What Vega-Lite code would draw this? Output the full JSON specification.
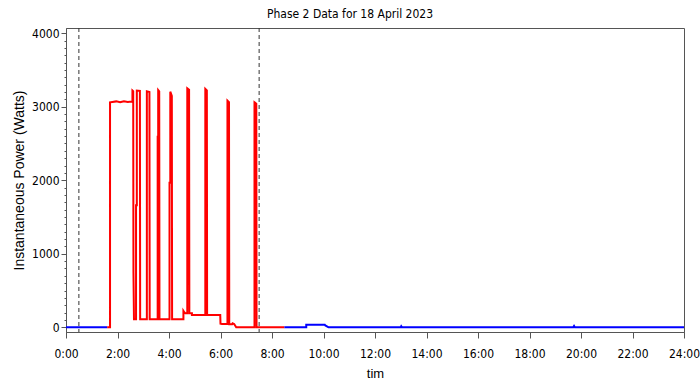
{
  "$schema": "https://vega.github.io/schema/vega-lite/v6.json",
  "autosize": "none",
  "width": 618,
  "height": 304,
  "padding": {"left": 66, "top": 28, "right": 16, "bottom": 50},
  "background": "white",
  "title": {
    "text": "Phase 2 Data for 18 April 2023",
    "font": "Liberation Sans Narrow, DejaVu Sans Condensed, Liberation Sans",
    "fontSize": 12,
    "fontWeight": "normal",
    "color": "black",
    "anchor": "middle",
    "frame": "group",
    "baseline": "bottom",
    "offset": 9,
    "dx": -25,
    "dy": 15
  },
  "config": {
    "view": {"stroke": "#555555", "strokeWidth": 1},
    "axis": {
      "labelFont": "Liberation Sans Narrow, DejaVu Sans Condensed, Liberation Sans",
      "titleFont": "Liberation Sans",
      "labelColor": "black",
      "titleColor": "black",
      "domainColor": "#555555",
      "tickColor": "#555555",
      "grid": false,
      "titleFontWeight": "normal"
    }
  },
  "datasets": {
    "power": [
      {"i": 1, "s": "b1", "c": "outside", "t": 0, "p": 0},
      {"i": 2, "s": "b1", "c": "outside", "t": 1.6, "p": 0},
      {"i": 3, "s": "r", "c": "inside", "t": 1.6, "p": 0},
      {"i": 4, "s": "r", "c": "inside", "t": 1.71, "p": 0},
      {"i": 5, "s": "r", "c": "inside", "t": 1.71, "p": 3060},
      {"i": 6, "s": "r", "c": "inside", "t": 1.8, "p": 3065},
      {"i": 7, "s": "r", "c": "inside", "t": 1.95, "p": 3072},
      {"i": 8, "s": "r", "c": "inside", "t": 2.1, "p": 3060},
      {"i": 9, "s": "r", "c": "inside", "t": 2.25, "p": 3075},
      {"i": 10, "s": "r", "c": "inside", "t": 2.4, "p": 3065},
      {"i": 11, "s": "r", "c": "inside", "t": 2.55, "p": 3070},
      {"i": 12, "s": "r", "c": "inside", "t": 2.58, "p": 3065},
      {"i": 13, "s": "r", "c": "inside", "t": 2.58, "p": 3220},
      {"i": 14, "s": "r", "c": "inside", "t": 2.61, "p": 3210},
      {"i": 15, "s": "r", "c": "inside", "t": 2.62, "p": 740},
      {"i": 16, "s": "r", "c": "inside", "t": 2.64, "p": 110},
      {"i": 17, "s": "r", "c": "inside", "t": 2.72, "p": 110},
      {"i": 18, "s": "r", "c": "inside", "t": 2.72, "p": 1660},
      {"i": 19, "s": "r", "c": "inside", "t": 2.75, "p": 1660},
      {"i": 20, "s": "r", "c": "inside", "t": 2.75, "p": 3220},
      {"i": 21, "s": "r", "c": "inside", "t": 2.87, "p": 3215},
      {"i": 22, "s": "r", "c": "inside", "t": 2.88, "p": 110},
      {"i": 23, "s": "r", "c": "inside", "t": 3.14, "p": 110},
      {"i": 24, "s": "r", "c": "inside", "t": 3.14, "p": 3210},
      {"i": 25, "s": "r", "c": "inside", "t": 3.24, "p": 3200},
      {"i": 26, "s": "r", "c": "inside", "t": 3.25, "p": 110},
      {"i": 27, "s": "r", "c": "inside", "t": 3.56, "p": 110},
      {"i": 28, "s": "r", "c": "inside", "t": 3.56, "p": 2590},
      {"i": 29, "s": "r", "c": "inside", "t": 3.58, "p": 2590},
      {"i": 30, "s": "r", "c": "inside", "t": 3.58, "p": 3227},
      {"i": 31, "s": "r", "c": "inside", "t": 3.62, "p": 3210},
      {"i": 32, "s": "r", "c": "inside", "t": 3.63, "p": 109},
      {"i": 33, "s": "r", "c": "inside", "t": 4.02, "p": 109},
      {"i": 34, "s": "r", "c": "inside", "t": 4.02, "p": 1967},
      {"i": 35, "s": "r", "c": "inside", "t": 4.05, "p": 1967},
      {"i": 36, "s": "r", "c": "inside", "t": 4.05, "p": 3204},
      {"i": 37, "s": "r", "c": "inside", "t": 4.11, "p": 3146},
      {"i": 38, "s": "r", "c": "inside", "t": 4.12, "p": 109},
      {"i": 39, "s": "r", "c": "inside", "t": 4.56, "p": 109},
      {"i": 40, "s": "r", "c": "inside", "t": 4.56, "p": 222},
      {"i": 41, "s": "r", "c": "inside", "t": 4.6, "p": 200},
      {"i": 42, "s": "r", "c": "inside", "t": 4.63, "p": 190},
      {"i": 43, "s": "r", "c": "inside", "t": 4.71, "p": 190},
      {"i": 44, "s": "r", "c": "inside", "t": 4.71, "p": 3250},
      {"i": 45, "s": "r", "c": "inside", "t": 4.78, "p": 3230},
      {"i": 46, "s": "r", "c": "inside", "t": 4.79, "p": 190},
      {"i": 47, "s": "r", "c": "inside", "t": 4.89, "p": 190},
      {"i": 48, "s": "r", "c": "inside", "t": 4.89, "p": 167},
      {"i": 49, "s": "r", "c": "inside", "t": 5.41, "p": 167},
      {"i": 50, "s": "r", "c": "inside", "t": 5.41, "p": 3241},
      {"i": 51, "s": "r", "c": "inside", "t": 5.47, "p": 3220},
      {"i": 52, "s": "r", "c": "inside", "t": 5.48, "p": 167},
      {"i": 53, "s": "r", "c": "inside", "t": 5.99, "p": 167},
      {"i": 54, "s": "r", "c": "inside", "t": 6.0, "p": 50},
      {"i": 55, "s": "r", "c": "inside", "t": 6.06, "p": 45},
      {"i": 56, "s": "r", "c": "inside", "t": 6.27, "p": 45},
      {"i": 57, "s": "r", "c": "inside", "t": 6.27, "p": 3082},
      {"i": 58, "s": "r", "c": "inside", "t": 6.33, "p": 3060},
      {"i": 59, "s": "r", "c": "inside", "t": 6.34, "p": 40},
      {"i": 60, "s": "r", "c": "inside", "t": 6.45, "p": 40},
      {"i": 61, "s": "r", "c": "inside", "t": 6.47, "p": 55},
      {"i": 62, "s": "r", "c": "inside", "t": 6.53, "p": 45},
      {"i": 63, "s": "r", "c": "inside", "t": 6.61, "p": 0},
      {"i": 64, "s": "r", "c": "inside", "t": 7.32, "p": 0},
      {"i": 65, "s": "r", "c": "inside", "t": 7.32, "p": 3060},
      {"i": 66, "s": "r", "c": "inside", "t": 7.39, "p": 3040},
      {"i": 67, "s": "r", "c": "inside", "t": 7.4, "p": 0},
      {"i": 68, "s": "r", "c": "inside", "t": 8.48, "p": 0},
      {"i": 69, "s": "b2", "c": "outside", "t": 8.48, "p": 0},
      {"i": 70, "s": "b2", "c": "outside", "t": 9.33, "p": 0},
      {"i": 71, "s": "b2", "c": "outside", "t": 9.33, "p": 36},
      {"i": 72, "s": "b2", "c": "outside", "t": 10.05, "p": 36},
      {"i": 73, "s": "b2", "c": "outside", "t": 10.07, "p": 25},
      {"i": 74, "s": "b2", "c": "outside", "t": 10.15, "p": 10},
      {"i": 75, "s": "b2", "c": "outside", "t": 10.2, "p": 0},
      {"i": 76, "s": "b2", "c": "outside", "t": 13.0, "p": 0},
      {"i": 77, "s": "b2", "c": "outside", "t": 13.02, "p": 15},
      {"i": 78, "s": "b2", "c": "outside", "t": 13.05, "p": 0},
      {"i": 79, "s": "b2", "c": "outside", "t": 19.7, "p": 0},
      {"i": 80, "s": "b2", "c": "outside", "t": 19.73, "p": 18},
      {"i": 81, "s": "b2", "c": "outside", "t": 19.76, "p": 0},
      {"i": 82, "s": "b2", "c": "outside", "t": 24, "p": 0}
    ],
    "refs": [
      {"t": 0.5},
      {"t": 7.5}
    ]
  },
  "layer": [
    {
      "data": {"name": "refs"},
      "mark": {"type": "rule", "color": "#333333", "strokeWidth": 1, "strokeDash": [4, 3]},
      "encoding": {
        "x": {"field": "t", "type": "quantitative", "scale": {"domain": [0, 24]}}
      }
    },
    {
      "data": {"name": "power"},
      "mark": {"type": "line", "strokeWidth": 2, "clip": true},
      "encoding": {
        "x": {
          "field": "t",
          "type": "quantitative",
          "scale": {"domain": [0, 24], "nice": false, "zero": false},
          "axis": {
            "title": "tim",
            "titleFontSize": 13,
            "titleY": 41,
            "titleBaseline": "middle",
            "values": [0, 2, 4, 6, 8, 10, 12, 14, 16, 18, 20, 22, 24],
            "labelExpr": "format(datum.value, 'd') + ':00'",
            "labelFontSize": 12,
            "tickSize": 6,
            "labelPadding": 10,
            "labelFlush": false,
            "labelOverlap": false
          }
        },
        "y": {
          "field": "p",
          "type": "quantitative",
          "scale": {"domain": [-64, 4070], "nice": false, "zero": false},
          "axis": {
            "title": "Instantaneous  Power  (Watts)",
            "titleFontSize": 14,
            "titleX": -47,
            "titleY": 152,
            "titleAngle": -90,
            "titleBaseline": "middle",
            "titleAlign": "center",
            "values": [0, 100, 200, 300, 400, 500, 600, 700, 800, 900, 1000, 1100, 1200, 1300, 1400, 1500, 1600, 1700, 1800, 1900, 2000, 2100, 2200, 2300, 2400, 2500, 2600, 2700, 2800, 2900, 3000, 3100, 3200, 3300, 3400, 3500, 3600, 3700, 3800, 3900, 4000],
            "labelExpr": "datum.value % 1000 === 0 ? format(datum.value, 'd') : ''",
            "labelFontSize": 12,
            "tickSize": {"condition": {"test": "datum.value % 1000 === 0", "value": 5}, "value": 2},
            "labelPadding": 2,
            "labelOverlap": false,
            "labelFlush": false
          }
        },
        "color": {
          "field": "c",
          "type": "nominal",
          "scale": {"domain": ["inside", "outside"], "range": ["#ff0000", "#0000ff"]},
          "legend": null
        },
        "detail": {"field": "s", "type": "nominal"},
        "order": {"field": "i", "type": "quantitative"}
      }
    }
  ]
}
